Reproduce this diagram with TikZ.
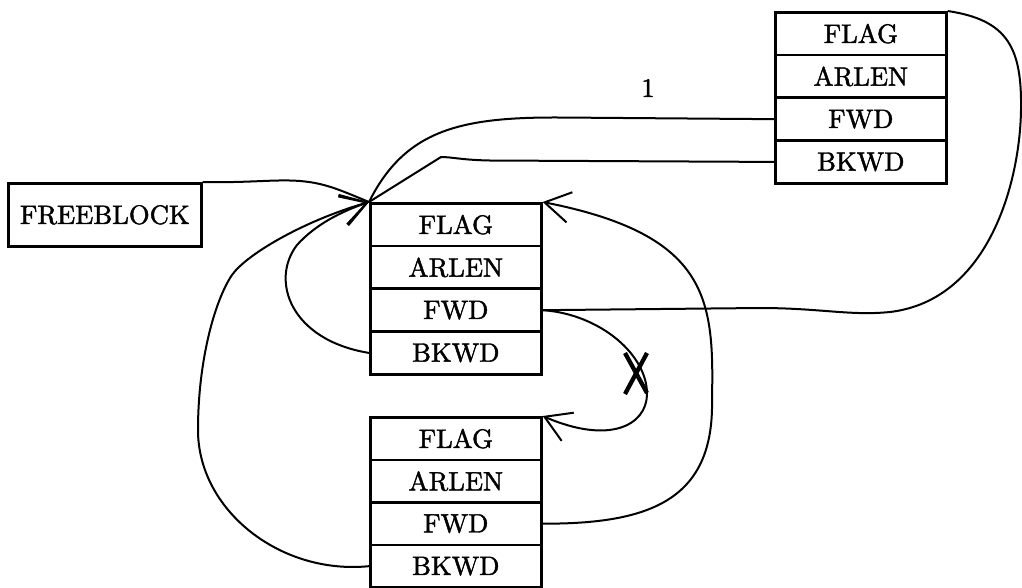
\documentclass[tikz,border=0pt]{standalone}
\usepackage{graphicx}
\usepackage{fontspec}
\newfontfamily\heavyfont{lmroman10-regular.otf}[FakeBold=1.6]
\usetikzlibrary{arrows.meta}
\newcommand{\bigtxt}[1]{\scalebox{2}{#1}}
\begin{document}
\begin{tikzpicture}[x=0.75pt,y=-0.75pt,
  font=\heavyfont\fontsize{10}{12}\selectfont,
  cell/.style={draw,line width=2pt,minimum width=128.25pt,minimum height=32pt,inner sep=0pt,anchor=north west},
  fbox/.style={draw,line width=2pt,minimum width=144.75pt,minimum height=47.25pt,inner sep=0pt,anchor=north west},
  link/.style={line width=1.5pt},
  barb/.style={-{Straight Barb[length=19pt,width=23pt]}},
  cross/.style={line width=3.2pt}]
\useasboundingbox (0,0) rectangle (1022,587);
% top block
\node[cell] (t1) at (774,11) {\bigtxt{FLAG}};
\node[cell] (t2) at (774,53.75) {\bigtxt{ARLEN}};
\node[cell] (t3) at (774,96.5) {\bigtxt{FWD}};
\node[cell] (t4) at (774,139.25) {\bigtxt{BKWD}};
% middle block
\node[cell] (m1) at (369,202) {\bigtxt{FLAG}};
\node[cell] (m2) at (369,244.75) {\bigtxt{ARLEN}};
\node[cell] (m3) at (369,287.5) {\bigtxt{FWD}};
\node[cell] (m4) at (369,330.25) {\bigtxt{BKWD}};
% bottom block
\node[cell] (b1) at (369,416) {\bigtxt{FLAG}};
\node[cell] (b2) at (369,458.5) {\bigtxt{ARLEN}};
\node[cell] (b3) at (369,501) {\bigtxt{FWD}};
\node[cell] (b4) at (369,543.5) {\bigtxt{BKWD}};
% freeblock
\node[fbox] (fb) at (7,182) {\bigtxt{FREEBLOCK}};
\node (one) at (648,88) {\bigtxt{1}};
% FREEBLOCK -> middle
\draw[link] (fb.north east) .. controls (250,183) and (275,179) .. (300,181) .. controls (325,183) and (340,190) .. (m1.north west);
% top FWD -> middle
\draw[link] (t3.west) -- (560,117.5) .. controls (460,117) and (405,130) .. (m1.north west);
% top BKWD -> middle
\draw[link] (t4.west) -- (490,160.5) .. controls (462,160) and (452,157) .. (441,157) -- (m1.north west);
% top FLAG -> middle FWD (right side)
\draw[link] (t1.north east) .. controls (1008,20) and (1022,48) .. (1021,110) .. controls (1020,180) and (990,300) .. (890,312) .. controls (850,316) and (820,308) .. (760,308) -- (m3.east);
% middle FWD -> bottom FLAG (crossed out)
\draw[link,barb] (m3.east) .. controls (600,314) and (648,355) .. (647,395) .. controls (646,425) and (610,445) .. (b1.north east);
\draw[cross] (625,353) -- (647,393);
\draw[cross] (647,353) -- (625,394);
% bottom FWD -> middle FLAG
\draw[link,barb] (b3.east) .. controls (650,524) and (714,500) .. (712,400) .. controls (714,300) and (710,235) .. (m1.north east);
% middle BKWD loop
\draw[link,barb] (m4.west) .. controls (290,340) and (270,280) .. (297,245) .. controls (315,225) and (340,212) .. (m1.north west);
% bottom BKWD loop
\draw[link,barb] (b4.west) .. controls (280,575) and (198,510) .. (198,430) .. controls (198,360) and (215,300) .. (232,275) .. controls (245,256) and (300,222) .. (m1.north west);
\end{tikzpicture}
\end{document}
